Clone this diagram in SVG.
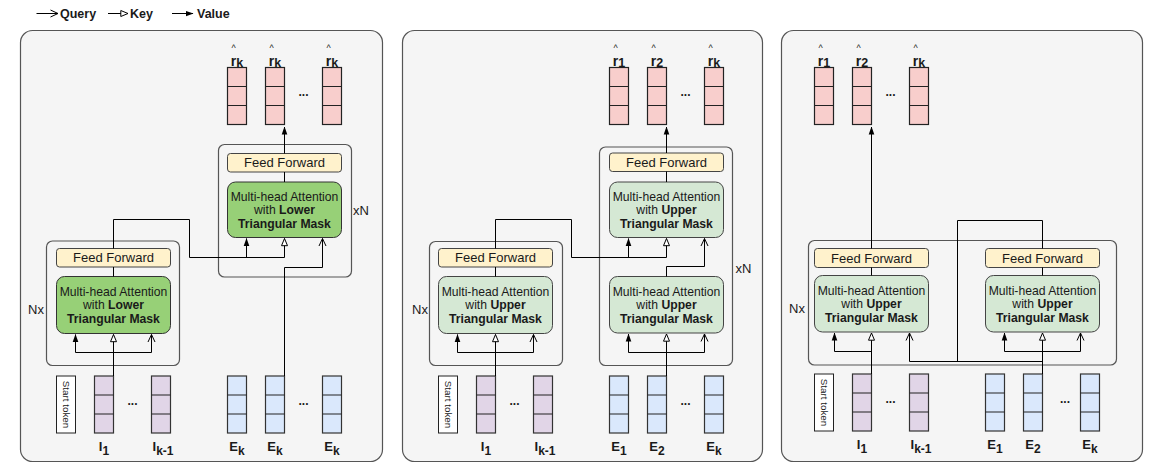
<svg xmlns="http://www.w3.org/2000/svg" width="1153" height="476" viewBox="0 0 1153 476">
<defs>
<marker id="val" viewBox="0 0 8 8" refX="7.5" refY="4" markerWidth="8" markerHeight="8" orient="auto" markerUnits="userSpaceOnUse"><path d="M0,1.2 L8,4 L0,6.8 z" fill="#000"/></marker>
<marker id="key" viewBox="0 0 9 9" refX="8" refY="4.5" markerWidth="9" markerHeight="9" orient="auto" markerUnits="userSpaceOnUse"><path d="M0.8,1.5 L8,4.5 L0.8,7.5 z" fill="#fff" stroke="#000" stroke-width="1"/></marker>
<marker id="qry" viewBox="0 0 9 9" refX="8" refY="4.5" markerWidth="9" markerHeight="9" orient="auto" markerUnits="userSpaceOnUse"><path d="M0.5,1 L8,4.5 L0.5,8" fill="none" stroke="#000" stroke-width="1"/></marker>
</defs>
<style>
text{font-family:"Liberation Sans",Arial,sans-serif;fill:#1a1a1a}
.panel{fill:#f5f5f5;stroke:#555;stroke-width:1.2}
.group{fill:none;stroke:#555;stroke-width:1.2}
.ff{fill:#fff2cc;stroke:#444;stroke-width:1}
.attL{fill:#97d077;stroke:#333;stroke-width:1}
.attU{fill:#d5e8d4;stroke:#444;stroke-width:1}
.red{fill:#f8cecc;stroke:#222;stroke-width:1.2}
.pur{fill:#e1d5e7;stroke:#333;stroke-width:1.2}
.blu{fill:#dae8fc;stroke:#333;stroke-width:1.2}
.st{fill:#fff;stroke:#222;stroke-width:1}
.div{stroke:#222;stroke-width:1.2}
.c{fill:none;stroke:#000;stroke-width:1}
.t12{font-size:12.2px}
.t13{font-size:13px}
.lbl{font-size:13px;font-weight:bold;text-anchor:middle}
.sub{font-size:12px}
.rl{font-size:14px;font-weight:bold;text-anchor:middle}
.rsub{font-size:12.5px}
.hat{font-size:9px;text-anchor:middle}
.dots{font-size:12px;font-weight:bold;text-anchor:middle}
.mid{text-anchor:middle}
.b{font-weight:bold}
</style>

<g id="legend">
<path class="c" d="M36.5,13.5 H58" marker-end="url(#qry)"/>
<text x="60" y="18" class="b" font-size="12.5">Query</text>
<path class="c" d="M108,13.5 H128" marker-end="url(#key)"/>
<text x="130" y="18" class="b" font-size="12.5">Key</text>
<path class="c" d="M172,13.5 H193" marker-end="url(#val)"/>
<text x="197" y="18" class="b" font-size="12.5">Value</text>
</g>

<!-- ================= PANEL 1 ================= -->
<g id="panel1">
<rect class="panel" x="20.5" y="30.5" width="362" height="431" rx="12"/>
</g>
<g id="p1-nx-box"><rect class="group" x="46.5" y="241" width="133" height="124.5" rx="6"/><text x="36" y="313.5" class="t13 mid">Nx</text></g>
<g id="p1-xn-box"><rect class="group" x="218.5" y="144.5" width="133" height="132.5" rx="6"/><text x="361" y="214.5" class="t13 mid">xN</text></g>
<g id="p1-ff-left"><rect class="ff" x="56.5" y="248.5" width="114" height="18.5" rx="3"/><text x="113.5" y="262.2" class="t13 mid">Feed Forward</text></g>
<g id="p1-att-left"><rect class="attL" x="56.5" y="276.5" width="114" height="57" rx="8"/>
<text x="113.5" y="295.8" class="t12 mid">Multi-head Attention</text>
<text x="113.5" y="309.3" class="t12 mid">with <tspan class="b">Lower</tspan></text>
<text x="113.5" y="322.8" class="t12 mid b">Triangular Mask</text></g>
<g id="p1-ff-right"><rect class="ff" x="227.5" y="153.5" width="114" height="18.5" rx="3"/><text x="284.5" y="167.2" class="t13 mid">Feed Forward</text></g>
<g id="p1-att-right"><rect class="attL" x="227.5" y="182" width="114" height="55.5" rx="8"/>
<text x="284.5" y="200.5" class="t12 mid">Multi-head Attention</text>
<text x="284.5" y="214" class="t12 mid">with <tspan class="b">Lower</tspan></text>
<text x="284.5" y="227.5" class="t12 mid b">Triangular Mask</text></g>
<g id="p1-outputs">
<rect class="red" x="227.5" y="67.5" width="19" height="57"/><path class="div" d="M227.5,86.5 H246.5 M227.5,105.5 H246.5"/>
<rect class="red" x="265.5" y="67.5" width="19" height="57"/><path class="div" d="M265.5,86.5 H284.5 M265.5,105.5 H284.5"/>
<rect class="red" x="322.5" y="67.5" width="19" height="57"/><path class="div" d="M322.5,86.5 H341.5 M322.5,105.5 H341.5"/>
<text x="303.5" y="96" class="dots">...</text>
<text x="233.5" y="50.8" class="hat">^</text><text x="237" y="65.5" class="rl">r<tspan class="rsub" dy="1">k</tspan></text>
<text x="271.5" y="50.8" class="hat">^</text><text x="275" y="65.5" class="rl">r<tspan class="rsub" dy="1">k</tspan></text>
<text x="328.5" y="50.8" class="hat">^</text><text x="332" y="65.5" class="rl">r<tspan class="rsub" dy="1">k</tspan></text>
</g>
<g id="p1-inputs">
<rect class="st" x="56.5" y="376" width="19" height="57"/>
<text transform="translate(66,404.5) rotate(90)" x="0" y="3.3" font-size="9.8" class="mid">Start token</text>
<rect class="pur" x="94.5" y="376" width="19" height="57"/><path class="div" d="M94.5,395 H113.5 M94.5,414 H113.5"/>
<rect class="pur" x="151.5" y="376" width="19" height="57"/><path class="div" d="M151.5,395 H170.5 M151.5,414 H170.5"/>
<text x="132.5" y="405" class="dots">...</text>
<rect class="blu" x="227.5" y="376" width="19" height="57"/><path class="div" d="M227.5,395 H246.5 M227.5,414 H246.5"/>
<rect class="blu" x="265.5" y="376" width="19" height="57"/><path class="div" d="M265.5,395 H284.5 M265.5,414 H284.5"/>
<rect class="blu" x="322.5" y="376" width="19" height="57"/><path class="div" d="M322.5,395 H341.5 M322.5,414 H341.5"/>
<text x="303.5" y="405" class="dots">...</text>
<text x="104" y="451" class="lbl">I<tspan class="sub" dy="3.5">1</tspan></text>
<text x="163" y="451" class="lbl">I<tspan class="sub" dy="3.5">k-1</tspan></text>
<text x="237" y="451" class="lbl">E<tspan class="sub" dy="3.5">k</tspan></text>
<text x="275" y="451" class="lbl">E<tspan class="sub" dy="3.5">k</tspan></text>
<text x="332" y="451" class="lbl">E<tspan class="sub" dy="3.5">k</tspan></text>
</g>

<!-- ================= PANEL 2 ================= -->
<g id="panel2">
<rect class="panel" x="402.5" y="30.5" width="360" height="431" rx="12"/>
</g>
<g id="p2-nx-box"><rect class="group" x="429.5" y="241.5" width="133" height="124" rx="6"/><text x="420" y="313.5" class="t13 mid">Nx</text></g>
<g id="p2-xn-box"><rect class="group" x="599.5" y="147" width="133" height="218.5" rx="6"/><text x="743.5" y="272.5" class="t13 mid">xN</text></g>
<g id="p2-ff-left"><rect class="ff" x="438.5" y="248.5" width="114" height="18.5" rx="3"/><text x="495.5" y="262.2" class="t13 mid">Feed Forward</text></g>
<g id="p2-att-left"><rect class="attU" x="438.5" y="276.5" width="114" height="57" rx="8"/>
<text x="495.5" y="295.8" class="t12 mid">Multi-head Attention</text>
<text x="495.5" y="309.3" class="t12 mid">with <tspan class="b">Upper</tspan></text>
<text x="495.5" y="322.8" class="t12 mid b">Triangular Mask</text></g>
<g id="p2-ff-right"><rect class="ff" x="609.5" y="153" width="114" height="18.5" rx="3"/><text x="666.5" y="166.7" class="t13 mid">Feed Forward</text></g>
<g id="p2-att-upper"><rect class="attU" x="609.5" y="182" width="114" height="55.5" rx="8"/>
<text x="666.5" y="200.5" class="t12 mid">Multi-head Attention</text>
<text x="666.5" y="214" class="t12 mid">with <tspan class="b">Upper</tspan></text>
<text x="666.5" y="227.5" class="t12 mid b">Triangular Mask</text></g>
<g id="p2-att-lower"><rect class="attU" x="609.5" y="276.5" width="114" height="56.5" rx="8"/>
<text x="666.5" y="295.8" class="t12 mid">Multi-head Attention</text>
<text x="666.5" y="309.3" class="t12 mid">with <tspan class="b">Upper</tspan></text>
<text x="666.5" y="322.8" class="t12 mid b">Triangular Mask</text></g>
<g id="p2-outputs">
<rect class="red" x="609.5" y="67.5" width="19" height="57"/><path class="div" d="M609.5,86.5 H628.5 M609.5,105.5 H628.5"/>
<rect class="red" x="647.5" y="67.5" width="19" height="57"/><path class="div" d="M647.5,86.5 H666.5 M647.5,105.5 H666.5"/>
<rect class="red" x="704.5" y="67.5" width="19" height="57"/><path class="div" d="M704.5,86.5 H723.5 M704.5,105.5 H723.5"/>
<text x="685.5" y="96" class="dots">...</text>
<text x="615.5" y="50.8" class="hat">^</text><text x="619" y="65.5" class="rl">r<tspan class="rsub" dy="1">1</tspan></text>
<text x="653.5" y="50.8" class="hat">^</text><text x="657" y="65.5" class="rl">r<tspan class="rsub" dy="1">2</tspan></text>
<text x="710.5" y="50.8" class="hat">^</text><text x="714" y="65.5" class="rl">r<tspan class="rsub" dy="1">k</tspan></text>
</g>
<g id="p2-inputs">
<rect class="st" x="438.5" y="376" width="19" height="57"/>
<text transform="translate(448,404.5) rotate(90)" x="0" y="3.3" font-size="9.8" class="mid">Start token</text>
<rect class="pur" x="476.5" y="376" width="19" height="57"/><path class="div" d="M476.5,395 H495.5 M476.5,414 H495.5"/>
<rect class="pur" x="533.5" y="376" width="19" height="57"/><path class="div" d="M533.5,395 H552.5 M533.5,414 H552.5"/>
<text x="514.5" y="405" class="dots">...</text>
<rect class="blu" x="609.5" y="376" width="19" height="57"/><path class="div" d="M609.5,395 H628.5 M609.5,414 H628.5"/>
<rect class="blu" x="647.5" y="376" width="19" height="57"/><path class="div" d="M647.5,395 H666.5 M647.5,414 H666.5"/>
<rect class="blu" x="704.5" y="376" width="19" height="57"/><path class="div" d="M704.5,395 H723.5 M704.5,414 H723.5"/>
<text x="685.5" y="405" class="dots">...</text>
<text x="486" y="451" class="lbl">I<tspan class="sub" dy="3.5">1</tspan></text>
<text x="545" y="451" class="lbl">I<tspan class="sub" dy="3.5">k-1</tspan></text>
<text x="619" y="451" class="lbl">E<tspan class="sub" dy="3.5">1</tspan></text>
<text x="657" y="451" class="lbl">E<tspan class="sub" dy="3.5">2</tspan></text>
<text x="714" y="451" class="lbl">E<tspan class="sub" dy="3.5">k</tspan></text>
</g>

<!-- ================= PANEL 3 ================= -->
<g id="panel3">
<rect class="panel" x="781.5" y="30.5" width="361" height="431" rx="12"/>
</g>
<g id="p3-nx-box"><rect class="group" x="808.5" y="240.5" width="308" height="124.5" rx="6"/><text x="797" y="313" class="t13 mid">Nx</text></g>
<g id="p3-ff-left"><rect class="ff" x="814.5" y="248.5" width="114" height="19" rx="3"/><text x="871.5" y="262.5" class="t13 mid">Feed Forward</text></g>
<g id="p3-att-left"><rect class="attU" x="814.5" y="275.5" width="114" height="56.5" rx="8"/>
<text x="871.5" y="294.5" class="t12 mid">Multi-head Attention</text>
<text x="871.5" y="308" class="t12 mid">with <tspan class="b">Upper</tspan></text>
<text x="871.5" y="321.5" class="t12 mid b">Triangular Mask</text></g>
<g id="p3-ff-right"><rect class="ff" x="985.5" y="248.5" width="114" height="19" rx="3"/><text x="1042.5" y="262.5" class="t13 mid">Feed Forward</text></g>
<g id="p3-att-right"><rect class="attU" x="985.5" y="275.5" width="114" height="56.5" rx="8"/>
<text x="1042.5" y="294.5" class="t12 mid">Multi-head Attention</text>
<text x="1042.5" y="308" class="t12 mid">with <tspan class="b">Upper</tspan></text>
<text x="1042.5" y="321.5" class="t12 mid b">Triangular Mask</text></g>
<g id="p3-outputs">
<rect class="red" x="814.5" y="67.5" width="19" height="57"/><path class="div" d="M814.5,86.5 H833.5 M814.5,105.5 H833.5"/>
<rect class="red" x="852.5" y="67.5" width="19" height="57"/><path class="div" d="M852.5,86.5 H871.5 M852.5,105.5 H871.5"/>
<rect class="red" x="909.5" y="67.5" width="19" height="57"/><path class="div" d="M909.5,86.5 H928.5 M909.5,105.5 H928.5"/>
<text x="890.5" y="96" class="dots">...</text>
<text x="820.5" y="50.8" class="hat">^</text><text x="824" y="65.5" class="rl">r<tspan class="rsub" dy="1">1</tspan></text>
<text x="858.5" y="50.8" class="hat">^</text><text x="862" y="65.5" class="rl">r<tspan class="rsub" dy="1">2</tspan></text>
<text x="915.5" y="50.8" class="hat">^</text><text x="919" y="65.5" class="rl">r<tspan class="rsub" dy="1">k</tspan></text>
</g>
<g id="p3-inputs">
<rect class="st" x="814.5" y="374" width="19" height="57"/>
<text transform="translate(824,402.5) rotate(90)" x="0" y="3.3" font-size="9.8" class="mid">Start token</text>
<rect class="pur" x="852.5" y="374" width="19" height="57"/><path class="div" d="M852.5,393 H871.5 M852.5,412 H871.5"/>
<rect class="pur" x="909.5" y="374" width="19" height="57"/><path class="div" d="M909.5,393 H928.5 M909.5,412 H928.5"/>
<text x="890.5" y="403" class="dots">...</text>
<rect class="blu" x="985.5" y="374" width="19" height="57"/><path class="div" d="M985.5,393 H1004.5 M985.5,412 H1004.5"/>
<rect class="blu" x="1023.5" y="374" width="19" height="57"/><path class="div" d="M1023.5,393 H1042.5 M1023.5,412 H1042.5"/>
<rect class="blu" x="1080.5" y="374" width="19" height="57"/><path class="div" d="M1080.5,393 H1099.5 M1080.5,412 H1099.5"/>
<text x="1065" y="403" class="dots">...</text>
<text x="862" y="449" class="lbl">I<tspan class="sub" dy="3.5">1</tspan></text>
<text x="921" y="449" class="lbl">I<tspan class="sub" dy="3.5">k-1</tspan></text>
<text x="995" y="449" class="lbl">E<tspan class="sub" dy="3.5">1</tspan></text>
<text x="1033" y="449" class="lbl">E<tspan class="sub" dy="3.5">2</tspan></text>
<text x="1090" y="449" class="lbl">E<tspan class="sub" dy="3.5">k</tspan></text>
</g>

<!-- ================= CONNECTORS ================= -->
<g id="connectors">
<!-- panel 1 -->
<path class="c" d="M284.5,153.5 V127" marker-end="url(#val)"/>
<path class="c" d="M284.5,172 V182"/>
<path class="c" d="M113.5,267 V276.5"/>
<path class="c" d="M113.5,248.5 V219.5 H189.5 V257.5 H284.5 V238.5" marker-end="url(#key)"/>
<path class="c" d="M246.5,257.5 V238.5" marker-end="url(#val)"/>
<path class="c" d="M284.5,376 V267.5 H322.5 V238.5" marker-end="url(#qry)"/>
<path class="c" d="M75.5,352.5 H151.5"/>
<path class="c" d="M75.5,352.5 V334.5" marker-end="url(#val)"/>
<path class="c" d="M151.5,352.5 V334.5" marker-end="url(#qry)"/>
<path class="c" d="M113.5,376 V334.5" marker-end="url(#key)"/>
<!-- panel 2 -->
<path class="c" d="M666.5,153 V127" marker-end="url(#val)"/>
<path class="c" d="M666.5,171.5 V182"/>
<path class="c" d="M495.5,267 V276.5"/>
<path class="c" d="M495.5,248.5 V219.5 H571.5 V257.5 H666.5 V238.5" marker-end="url(#key)"/>
<path class="c" d="M628.5,257.5 V238.5" marker-end="url(#val)"/>
<path class="c" d="M666.5,276.5 V266.5 H704.5 V238.5" marker-end="url(#qry)"/>
<path class="c" d="M457.5,352.5 H533.5"/>
<path class="c" d="M457.5,352.5 V334.5" marker-end="url(#val)"/>
<path class="c" d="M533.5,352.5 V334.5" marker-end="url(#qry)"/>
<path class="c" d="M495.5,376 V334.5" marker-end="url(#key)"/>
<path class="c" d="M628.5,352.5 H704.5"/>
<path class="c" d="M628.5,352.5 V334" marker-end="url(#val)"/>
<path class="c" d="M704.5,352.5 V334" marker-end="url(#qry)"/>
<path class="c" d="M666.5,376 V334" marker-end="url(#key)"/>
<!-- panel 3 -->
<path class="c" d="M871.5,248.5 V127" marker-end="url(#val)"/>
<path class="c" d="M871.5,267.5 V275.5"/>
<path class="c" d="M1042.5,267.5 V275.5"/>
<path class="c" d="M1042.5,248.5 V220.5 H957.5 V361.5"/>
<path class="c" d="M909.5,361.5 H1042.5"/>
<path class="c" d="M909.5,361.5 V333" marker-end="url(#qry)"/>
<path class="c" d="M834.5,351.5 H871.5"/>
<path class="c" d="M834.5,351.5 V333" marker-end="url(#val)"/>
<path class="c" d="M871.5,374 V333" marker-end="url(#key)"/>
<path class="c" d="M1004.5,351.5 H1080.5"/>
<path class="c" d="M1004.5,351.5 V333" marker-end="url(#val)"/>
<path class="c" d="M1080.5,351.5 V333" marker-end="url(#qry)"/>
<path class="c" d="M1042.5,374 V333" marker-end="url(#key)"/>
</g>
</svg>
